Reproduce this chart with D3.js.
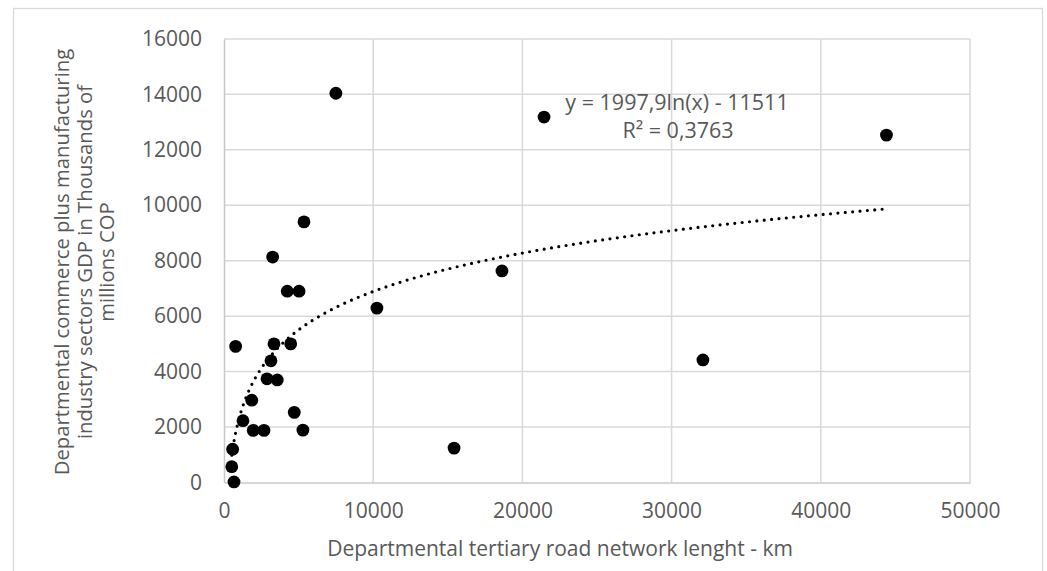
<!DOCTYPE html>
<html><head><meta charset="utf-8">
<script src="https://cdn.jsdelivr.net/npm/d3@7"></script>
<style>body{margin:0;background:#fff;}svg{display:block;}text{font-family:"Open Sans",sans-serif;fill:#595959;}</style>
</head><body><svg id="c" width="1047" height="571"></svg>
<script>
const roadKm = [7500,21450,44400,5360,3260,18630,4240,5030,10250,780,3350,4470,3150,32100,2880,3570,1860,4710,1270,1960,2680,5290,15420,580,520,670];
const gdp    = [14040,13180,12530,9400,8130,7630,6900,6900,6290,4910,5000,5000,4390,4420,3740,3700,2970,2530,2230,1880,1880,1890,1240,1200,570,20];
const xTicks = [0,10000,20000,30000,40000,50000];
const yTicks = [0,2000,4000,6000,8000,10000,12000,14000,16000];
const trendA = 1997.9, trendB = -11511;
const eqLabel = "y = 1997,9ln(x) - 11511";
const r2Label = "R² = 0,3763";
const xTitle = "Departmental tertiary road network lenght - km";
const yTitleLines = ["Departmental commerce plus manufacturing","industry sectors GDP in Thousands of","millions COP"];

const svg = d3.select("#c");
svg.append("rect").attr("x",13.5).attr("y",8.5).attr("width",1029).attr("height",580).attr("fill","#fff").attr("stroke","#d9d9d9").attr("stroke-width",1.3);

const x = d3.scaleLinear().domain([0,50000]).range([224,970]);
const y = d3.scaleLinear().domain([0,16000]).range([482.5,38.9]);
const grid = "#d9d9d9";

// gridlines
svg.append("g").selectAll("line").data(yTicks.filter(d=>d>0)).join("line")
  .attr("x1",x(0)).attr("x2",x(50000)).attr("y1",d=>y(d)).attr("y2",d=>y(d))
  .attr("stroke",grid).attr("stroke-width",1.5);
svg.append("g").selectAll("line").data(xTicks.filter(d=>d>0)).join("line")
  .attr("y1",y(0)).attr("y2",y(16000)).attr("x1",d=>x(d)).attr("x2",d=>x(d))
  .attr("stroke",grid).attr("stroke-width",1.5);

// axes
const xa = svg.append("g").attr("transform",`translate(0,${y(0)})`).call(d3.axisBottom(x).tickValues(xTicks).tickSize(0).tickPadding(21).tickFormat(d3.format("d")));
const ya = svg.append("g").attr("transform",`translate(${x(0)},0)`).call(d3.axisLeft(y).tickValues(yTicks).tickSize(0).tickPadding(22).tickFormat(d3.format("d")));
[xa,ya].forEach(a=>{a.select(".domain").attr("stroke","#c8c8c8").attr("stroke-width",1.5);
  a.selectAll("text").attr("font-family","Open Sans").attr("font-size",21).attr("fill","#595959");});

// trendline
const xmin = d3.min(roadKm), xmax = d3.max(roadKm);
const tx = d3.range(0,201).map(i=>xmin*Math.pow(xmax/xmin,i/200));
const line = d3.line().x(d=>x(d)).y(d=>y(trendA*Math.log(d)+trendB));
svg.append("path").datum(tx).attr("d",line).attr("fill","none").attr("stroke","#000")
  .attr("stroke-width",3.2).attr("stroke-linecap","round").attr("stroke-dasharray","0 7.4");

// points
svg.append("g").selectAll("circle").data(roadKm.map((d,i)=>[d,gdp[i]])).join("circle")
  .attr("cx",d=>x(d[0])).attr("cy",d=>y(d[1])).attr("r",6.4).attr("fill","#000");

// equation
svg.append("text").attr("x",677).attr("y",110).attr("text-anchor","middle").attr("font-size",21.5).text(eqLabel);
svg.append("text").attr("x",678).attr("y",138).attr("text-anchor","middle").attr("font-size",21.5).text(r2Label);

// titles
svg.append("text").attr("x",560).attr("y",556).attr("text-anchor","middle").attr("font-size",21).text(xTitle);
svg.append("g").attr("transform","translate(0,262) rotate(-90)").selectAll("text").data(yTitleLines).join("text")
  .attr("x",0).attr("y",(d,i)=>69+i*22.5).attr("text-anchor","middle").attr("font-size",20.3).text(d=>d);
</script></body></html>
